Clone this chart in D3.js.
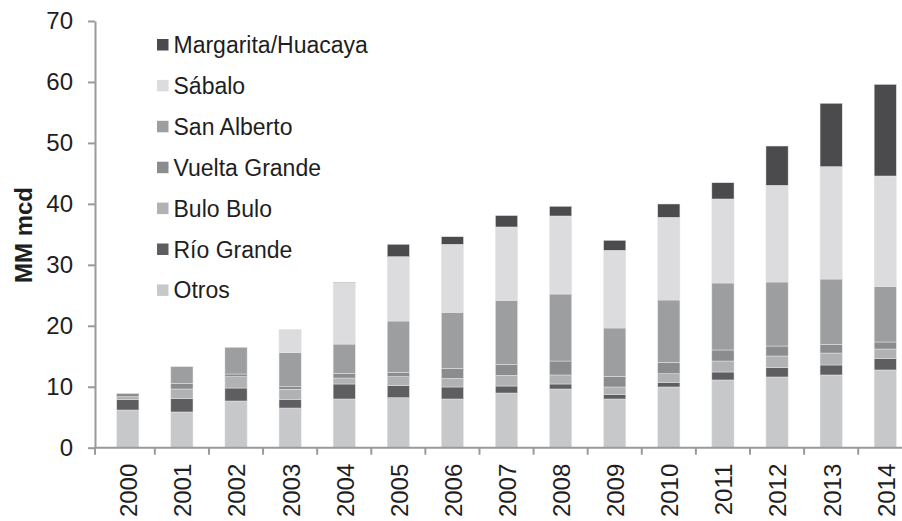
<!DOCTYPE html>
<html>
<head>
<meta charset="utf-8">
<script src="https://cdn.jsdelivr.net/npm/d3@7"></script>
<style>
  body { margin: 0; background: #fff; }
  svg text { font-family: "Liberation Sans", Arial, sans-serif; fill: #1e1e1e; }
</style>
</head>
<body>
<div id="chart"></div>
<script>
// Data (MM mcd)
const years = ["2000","2001","2002","2003","2004","2005","2006","2007","2008","2009","2010","2011","2012","2013","2014"];
const fields = ["Otros", "Río Grande", "Bulo Bulo", "Vuelta Grande", "San Alberto", "Sábalo", "Margarita/Huacaya"];
const otros        = [6.18, 5.86, 7.66, 6.51, 7.99, 8.20, 7.99, 8.97, 9.63, 7.99, 9.96, 11.11, 11.60, 11.93, 12.75];
const rioGrande    = [1.76, 2.24, 2.13, 1.43, 2.46, 1.97, 1.97, 1.15, 0.82, 0.77, 0.77, 1.31, 1.52, 1.64, 1.91];
const buloBulo     = [0.43, 1.53, 1.86, 1.64, 0.98, 1.48, 1.42, 1.76, 1.48, 1.20, 1.41, 1.80, 1.92, 1.96, 1.53];
const vueltaGrande = [0.50, 0.93, 0.44, 0.42, 0.77, 0.72, 1.64, 1.76, 2.29, 1.75, 1.87, 1.81, 1.64, 1.43, 1.15];
const sanAlberto   = [0.05, 2.73, 4.38, 5.58, 4.80, 8.41, 9.19, 10.55, 10.99, 7.93, 10.22, 10.99, 10.50, 10.71, 9.07];
const sabalo       = [0, 0, 0, 3.84, 10.10, 10.55, 11.16, 12.02, 12.80, 12.74, 13.56, 13.78, 15.86, 18.43, 18.16];
const margarita    = [0, 0, 0, 0, 0.05, 2.04, 1.24, 1.87, 1.59, 1.64, 2.19, 2.67, 6.45, 10.40, 15.03];
const yTicks = [0, 10, 20, 30, 40, 50, 60, 70];

const seriesValues = [otros, rioGrande, buloBulo, vueltaGrande, sanAlberto, sabalo, margarita];
const colors = ["#c7c8ca", "#5e5e60", "#b1b2b4", "#8b8c8e", "#9d9ea0", "#dcdcde", "#4b4b4d"];

const width = 902, height = 521;

// table for d3.stack
const table = years.map((yr, i) => {
  const row = { year: yr };
  fields.forEach((f, k) => { row[f] = seriesValues[k][i]; });
  return row;
});
const stacked = d3.stack().keys(fields)(table);

const svg = d3.select("#chart").append("svg")
  .attr("width", width)
  .attr("height", height);

const x = d3.scaleBand()
  .domain(years)
  .range([100.75, 912.3])
  .padding(0);

const y = d3.scaleLinear()
  .domain([0, 70])
  .range([447.7, 21]);

const barW = x.bandwidth() * 0.41;
const color = d3.scaleOrdinal().domain(fields).range(colors);

// bars
svg.append("g")
  .selectAll("g")
  .data(stacked)
  .join("g")
  .attr("fill", d => color(d.key))
  .selectAll("rect")
  .data(d => d)
  .join("rect")
  .attr("x", d => x(d.data.year) + (x.bandwidth() - barW) / 2)
  .attr("y", d => y(d[1]))
  .attr("width", barW)
  .attr("height", d => y(d[0]) - y(d[1]))
  .attr("stroke", "#e6e6e8")
  .attr("stroke-width", 0.5);

// y axis
const yAxis = svg.append("g")
  .attr("transform", "translate(95,0)")
  .call(d3.axisLeft(y).tickValues(yTicks).tickSize(7).tickSizeOuter(0).tickPadding(15));
yAxis.selectAll("line, path").attr("stroke", "#9a9a9a").attr("stroke-width", 2);
yAxis.selectAll("text").style("font-size", "24px");

// x axis: line, tick marks at category boundaries, rotated labels
svg.append("line")
  .attr("x1", 94).attr("x2", width)
  .attr("y1", y(0)).attr("y2", y(0))
  .attr("stroke", "#9a9a9a").attr("stroke-width", 2);

svg.append("g")
  .selectAll("line")
  .data([95].concat(years.slice(1).map(d => x(d))))
  .join("line")
  .attr("x1", d => d).attr("x2", d => d)
  .attr("y1", y(0)).attr("y2", y(0) + 7)
  .attr("stroke", "#9a9a9a").attr("stroke-width", 2);

svg.append("g")
  .selectAll("text")
  .data(years)
  .join("text")
  .attr("transform", d => `translate(${x(d) + x.bandwidth() / 2 + 1},${y(0) + 16}) rotate(-90)`)
  .attr("text-anchor", "end")
  .attr("dy", "0.35em")
  .style("font-size", "24px")
  .text(d => d);

// y axis title
svg.append("text")
  .attr("transform", "translate(32,235) rotate(-90)")
  .attr("text-anchor", "middle")
  .style("font-size", "24px")
  .style("font-weight", "bold")
  .text("MM mcd");

// legend (top series first)
const legendItems = fields.slice().reverse();
const legend = svg.append("g")
  .selectAll("g")
  .data(legendItems)
  .join("g")
  .attr("transform", (d, i) => `translate(157,${45 + i * 40.9})`);

legend.append("rect")
  .attr("x", 0).attr("y", -6)
  .attr("width", 11.5).attr("height", 11.5)
  .attr("fill", d => color(d));

legend.append("text")
  .attr("x", 16.5)
  .attr("dy", "0.35em")
  .style("font-size", "23px")
  .text(d => d);
</script>
</body>
</html>
